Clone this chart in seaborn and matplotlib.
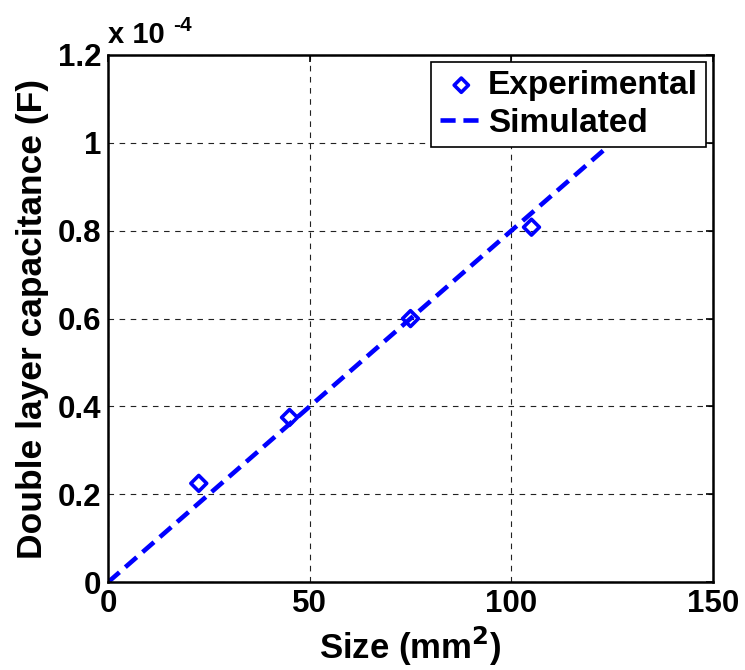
import matplotlib
matplotlib.use("Agg")
import matplotlib.pyplot as plt
import matplotlib.ticker as mticker
import seaborn as sns
import pandas as pd

# Data
exp_size = [22.5, 45, 75, 105]                 # mm^2
exp_cap = [2.25e-5, 3.75e-5, 6.0e-5, 8.08e-5]  # F
sim_size = [0, 130]
sim_cap = [0.0, 1.04e-4]

x_ticks = [0, 50, 100, 150]
y_ticks = [0, 0.2e-4, 0.4e-4, 0.6e-4, 0.8e-4, 1.0e-4, 1.2e-4]

sns.set_style("white")
plt.rcParams['font.family'] = ['Liberation Sans', 'DejaVu Sans']
plt.rcParams['font.weight'] = 'bold'
plt.rcParams['text.color'] = 'black'
plt.rcParams['axes.labelcolor'] = 'black'
plt.rcParams['xtick.color'] = 'black'
plt.rcParams['ytick.color'] = 'black'
plt.rcParams['mathtext.default'] = 'bf'

fig = plt.figure(figsize=(7.45, 6.7), dpi=100)
ax = fig.add_axes([0.145, 0.131, 0.812, 0.787])

df_exp = pd.DataFrame({"size": exp_size, "cap": exp_cap})
df_sim = pd.DataFrame({"size": sim_size, "cap": sim_cap})

sns.scatterplot(data=df_exp, x="size", y="cap", ax=ax, marker="D",
                s=65, facecolor="none", edgecolor="blue", linewidth=2.6,
                label="Experimental", zorder=3)
sns.lineplot(data=df_sim, x="size", y="cap", ax=ax, color="blue",
             linestyle="--", linewidth=3.3, label="Simulated", zorder=2)
ax.lines[-1].set_dashes((3.3, 1.7))

ax.set_xlim(0, 150)
ax.set_ylim(0, 1.2e-4)
ax.set_xticks(x_ticks)
ax.set_yticks(y_ticks)
ax.yaxis.set_major_formatter(mticker.FuncFormatter(lambda v, p: "%g" % round(v * 1e4, 3)))
ax.tick_params(axis="both", which="both", direction="in", length=5, width=1.2,
               top=True, right=True, labelsize=22.5, pad=5, colors="black")
for lab in ax.get_xticklabels() + ax.get_yticklabels():
    lab.set_fontweight("bold")

ax.grid(True, color="#222222", linestyle=(0, (5, 5)), linewidth=0.8)
for sp in ax.spines.values():
    sp.set_color("black")
    sp.set_linewidth(1.8)

ax.set_xlabel("Size (mm$^\\mathbf{2}$)", fontsize=25, fontweight="bold", labelpad=4)
ax.set_ylabel("Double layer capacitance (F)", fontsize=25.5, fontweight="bold", labelpad=6)

ax.text(0.0, 1.012, "x 10", transform=ax.transAxes, fontsize=21,
        fontweight="bold", ha="left", va="bottom")
ax.text(0.107, 1.038, "-4", transform=ax.transAxes, fontsize=15,
        fontweight="bold", ha="left", va="bottom")

leg = ax.legend(loc="upper right", fontsize=24, frameon=True, fancybox=False,
                framealpha=1, edgecolor="black", borderpad=0.25,
                handlelength=1.3, handletextpad=0.15, borderaxespad=0.2,
                labelspacing=0.2, markerscale=0.9)
leg.get_frame().set_linewidth(1.2)
for t in leg.get_texts():
    t.set_fontweight("bold")
    t.set_color("black")

fig.savefig("out.png", dpi=100)
